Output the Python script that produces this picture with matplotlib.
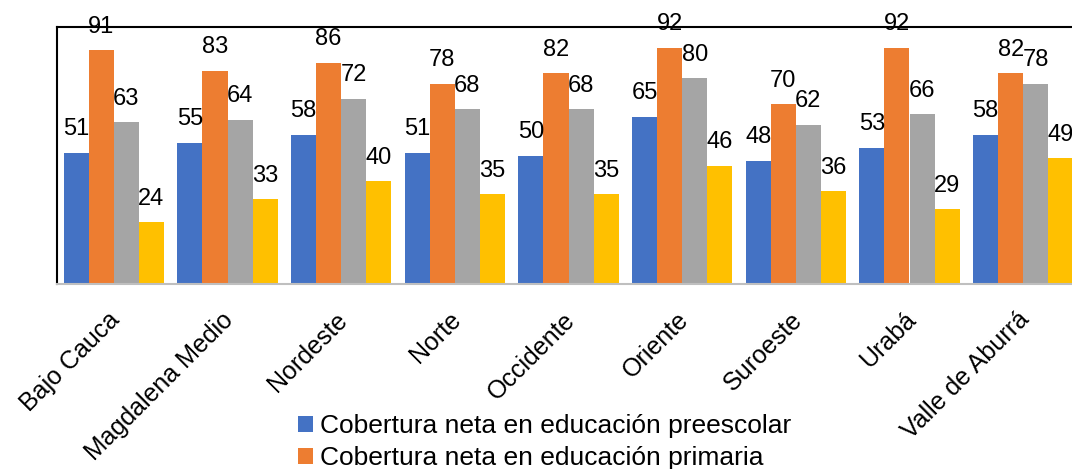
import matplotlib
matplotlib.use("Agg")
import matplotlib.pyplot as plt
from matplotlib.patches import Patch
import matplotlib.transforms as mtransforms
import numpy as np

plt.rcParams['font.family'] = ['Liberation Sans', 'DejaVu Sans']

subregiones = ["Bajo Cauca", "Magdalena Medio", "Nordeste", "Norte", "Occidente",
               "Oriente", "Suroeste", "Urabá", "Valle de Aburrá"]
preescolar = [51, 55, 58, 51, 50, 65, 48, 53, 58]
primaria = [91, 83, 86, 78, 82, 92, 70, 92, 82]
secundaria = [63, 64, 72, 68, 68, 80, 62, 66, 78]
media = [24, 33, 40, 35, 35, 46, 36, 29, 49]

series = [preescolar, primaria, secundaria, media]
colores = ["#4472C4", "#ED7D31", "#A5A5A5", "#FFC000"]
etiquetas = ["Cobertura neta en educación preescolar",
             "Cobertura neta en educación primaria"]

fig = plt.figure(figsize=(10.72, 4.69), dpi=100)
ax = fig.add_axes([57 / 1072, 185 / 469, 1023 / 1072, 257 / 469])

x = np.arange(len(subregiones))
ancho = 0.22
for i, (vals, color) in enumerate(zip(series, colores)):
    pos = x + (i - 1.5) * ancho
    barras = ax.bar(pos, vals, width=ancho, color=color, edgecolor="none", zorder=2)
    ax.bar_label(barras, labels=[f"{v}" for v in vals], padding=9,
                 fontsize=17, color="black", clip_on=False)

ax.set_xlim(-0.5, len(subregiones) - 0.5)
ax.set_ylim(0, 100)
ax.set_yticks([])
ax.set_xticks(x)
ax.set_xticklabels(subregiones, rotation=45, ha="right", va="top",
                   rotation_mode="anchor", fontsize=18)
ax.tick_params(axis="x", length=0, pad=17)
desplazamiento = mtransforms.ScaledTranslation(-6 / 100, 0, fig.dpi_scale_trans)
for etiqueta in ax.get_xticklabels():
    etiqueta.set_transform(etiqueta.get_transform() + desplazamiento)

for lado in ["left", "top"]:
    ax.spines[lado].set_color("black")
    ax.spines[lado].set_linewidth(1.5)
ax.spines["right"].set_visible(False)
ax.spines["bottom"].set_color("#BFBFBF")
ax.spines["bottom"].set_linewidth(1.5)

handles = [Patch(facecolor=c, edgecolor="none") for c in colores[:2]]
fig.legend(handles, etiquetas, loc="upper left", bbox_to_anchor=(298 / 1072, 1 - 414 / 469),
           frameon=False, fontsize=19, handlelength=0.55, handleheight=0.55,
           handletextpad=0.3, labelspacing=0.32, borderaxespad=0, borderpad=0)

fig.savefig("out.png", dpi=100)
